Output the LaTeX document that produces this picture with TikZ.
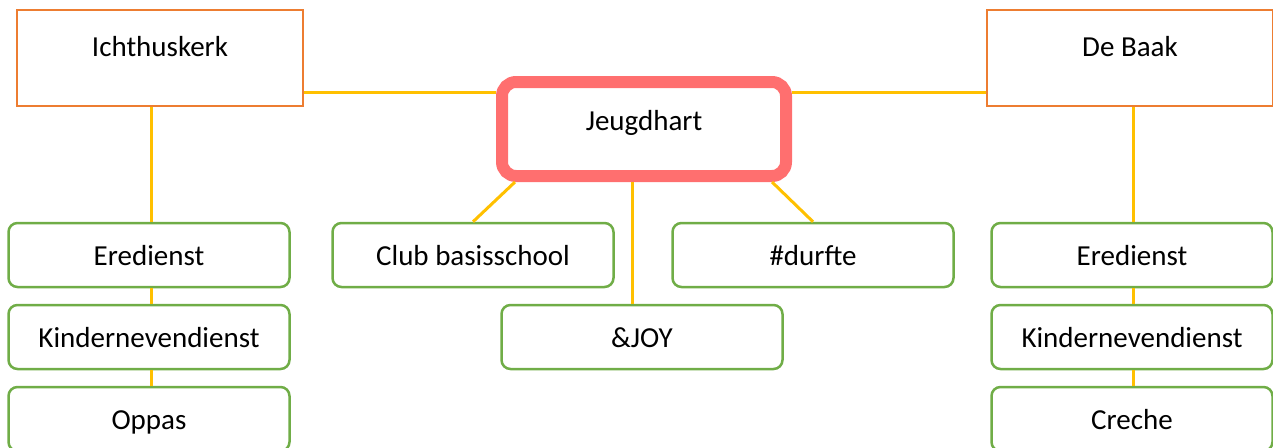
\documentclass[tikz,border=0pt]{standalone}
\usepackage{fontspec}
\setmainfont{Carlito}
\usetikzlibrary{positioning}
\definecolor{kerkorange}{HTML}{ED7D31}
\definecolor{takgroen}{HTML}{70AD47}
\definecolor{lijngeel}{HTML}{FFC000}
\definecolor{hartrood}{HTML}{FF6F6F}

\begin{document}
\begin{tikzpicture}[x=1pt,y=-1pt]
	\tikzset{every node/.style={font=\fontsize{29}{34}\selectfont,inner sep=0pt}}
	\tikzset{kerk/.style={draw=kerkorange,line width=2pt,minimum width=286pt,minimum height=96pt,text height=46pt,text depth=50pt}}
	\tikzset{hart/.style={draw=hartrood,line width=12pt,rounded corners=14pt,minimum width=284pt,minimum height=94pt,text height=48pt,text depth=46pt}}
	\tikzset{tak/.style={draw=takgroen,line width=2.5pt,rounded corners=9pt,minimum width=281pt,minimum height=64pt,text height=42pt,text depth=22pt}}
	\tikzset{lijn/.style={draw=lijngeel,line width=3pt}}
	\useasboundingbox (0,0) rectangle (1273,447);
	% hoofdlocaties
	\node[kerk] (ichthus) at (160,58) {Ichthuskerk};
	\node[kerk] (baak) at (1130,58) {De Baak};
	\node[hart] (jeugd) at (644,129) {Jeugdhart};
	% Ichthuskerk
	\node[tak] (ered1) at (149,255) {Eredienst};
	\node[tak] (kind1) at (149,337) {Kindernevendienst};
	\node[tak] (oppas) at (149,419) {Oppas};
	% De Baak
	\node[tak] (ered2) at (1132,255) {Eredienst};
	\node[tak] (kind2) at (1132,337) {Kindernevendienst};
	\node[tak] (creche) at (1132,419) {Creche};
	% Jeugdhart
	\node[tak] (club) at (473,255) {Club basisschool};
	\node[tak] (durf) at (813,255) {\#durfte};
	\node[tak] (joy) at (642,337) {\&JOY};
	% verbindingen
	\draw[lijn] (ichthus.east |- 0,92) -- (jeugd.west |- 0,92);
	\draw[lijn] (baak.west |- 0,92) -- (jeugd.east |- 0,92);
	\draw[lijn] ([xshift=2pt]ered1.north |- ichthus.south) -- ([xshift=2pt]ered1.north);
	\draw[lijn] ([xshift=2pt]ered1.south) -- ([xshift=2pt]kind1.north);
	\draw[lijn] ([xshift=2pt]kind1.south) -- ([xshift=2pt]oppas.north);
	\draw[lijn] ([xshift=1pt]ered2.north |- baak.south) -- ([xshift=1pt]ered2.north);
	\draw[lijn] ([xshift=1pt]ered2.south) -- ([xshift=1pt]kind2.north);
	\draw[lijn] ([xshift=1pt]kind2.south) -- ([xshift=1pt]creche.north);
	\draw[lijn] ([xshift=19pt]jeugd.south west) -- (club.north);
	\draw[lijn] ([xshift=-20pt]jeugd.south east) -- (durf.north);
	\draw[lijn] ([xshift=-12pt]jeugd.south) -- ([xshift=-10pt]joy.north);
\end{tikzpicture}
\end{document}
